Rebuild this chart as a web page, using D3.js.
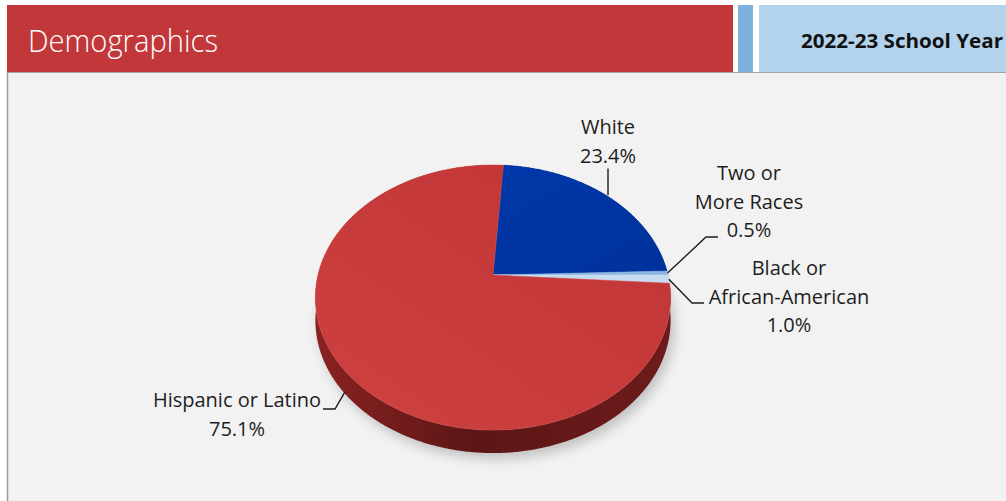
<!DOCTYPE html>
<html>
<head>
<meta charset="utf-8">
<script src="https://cdn.jsdelivr.net/npm/d3@7"></script>
<style>
  body { margin: 0; background: #fff; }
  svg { display: block; }
  .lbl { font-family: "Open Sans", "Noto Sans", sans-serif; font-size: 20px; fill: #1e1e1e; }
  .leader { fill: none; stroke: #1e1e1e; stroke-width: 1.4; }
</style>
</head>
<body>
<svg id="chart" width="1006" height="501"></svg>
<script>
// data
var categories = ["White", "Two or More Races", "Black or African-American", "Hispanic or Latino"];
var values = [23.4, 0.5, 1.0, 75.1];
var labelLines = [["White", "23.4%"], ["Two or", "More Races", "0.5%"], ["Black or", "African-American", "1.0%"], ["Hispanic or Latino", "75.1%"]];
var topColors = ["#0035a3", "#8fb6e3", "#c8dcf1", "#c53739"];
var sideColors = ["#001c5a", "#5e7fa8", "#8aa3bf", "#6a1818"];

// layout of the labels (text anchor + elbow of leader line)
var labelLayout = [
    { x: 608, y: 134, elbow: null, end: null, depth: 0 },
    { x: 749, y: 180, elbow: [706, 237], end: [718, 237], depth: 0 },
    { x: 789, y: 275, elbow: [692, 303], end: [704, 303], depth: 0 },
    { x: 237, y: 407, elbow: [335, 409], end: [323, 409], depth: 22 }
];

var svg = d3.select("#chart");
var defs = svg.append("defs");

// header
svg.append("rect").attr("x", 7).attr("y", 72).attr("width", 999).attr("height", 429).attr("fill", "#f2f2f2");
svg.append("rect").attr("x", 7).attr("y", 5).attr("width", 726).attr("height", 67).attr("fill", "#c2373a");
svg.append("rect").attr("x", 738).attr("y", 5).attr("width", 15).attr("height", 67).attr("fill", "#7fb1df");
svg.append("rect").attr("x", 759).attr("y", 5).attr("width", 247).attr("height", 67).attr("fill", "#b3d3ec");
svg.append("line").attr("x1", 7).attr("x2", 1006).attr("y1", 72.5).attr("y2", 72.5).attr("stroke", "#a3a3a3");
svg.append("line").attr("x1", 7.5).attr("x2", 7.5).attr("y1", 72).attr("y2", 501).attr("stroke", "#9a9a9a").attr("stroke-width", 1.5);

svg.append("text")
    .attr("x", 28).attr("y", 52)
    .attr("textLength", 190).attr("lengthAdjust", "spacingAndGlyphs")
    .style("font-family", "'Open Sans', 'Noto Sans', sans-serif")
    .style("font-weight", 300).style("font-size", "31px").style("fill", "#fff")
    .text("Demographics");
svg.append("text")
    .attr("x", 801).attr("y", 48)
    .attr("textLength", 202).attr("lengthAdjust", "spacingAndGlyphs")
    .style("font-family", "'Open Sans', 'Noto Sans', sans-serif")
    .style("font-weight", 700).style("font-size", "19px").style("fill", "#111")
    .text("2022-23 School Year");

// perspective disc projection
var cx = 493, cy = 275, ax = 175, ay = 128.7, k = 0.17, depth = 23;
var startOffset = 4 * Math.PI / 180;

function proj(theta, r) {
    var u = r * Math.sin(theta), v = r * Math.cos(theta);
    var w = 1 + k * v;
    return [cx + ax * u / w, cy - ay * v / w];
}

function rimPoints(a0, a1) {
    var n = Math.max(2, Math.ceil((a1 - a0) / (Math.PI / 360)));
    return d3.range(n + 1).map(function(i) { return proj(a0 + (a1 - a0) * i / n, 1); });
}

var arcs = d3.pie().sort(null).value(function(d) { return d; })
    .startAngle(startOffset).endAngle(startOffset + 2 * Math.PI)(values);

// shadow
var blur = defs.append("filter").attr("id", "shadow").attr("x", "-20%").attr("y", "-20%").attr("width", "140%").attr("height", "140%");
blur.append("feGaussianBlur").attr("stdDeviation", 6);
var shadowPts = rimPoints(0, 2 * Math.PI).map(function(p) { return [p[0] + 4, p[1] + depth + 6]; });
svg.append("path")
    .attr("d", d3.line()(shadowPts) + "Z")
    .attr("fill", "#9a9a9a").attr("opacity", 0.55)
    .attr("filter", "url(#shadow)");

// gradients
var sideGrad = defs.append("linearGradient").attr("id", "sideRed").attr("x1", 0).attr("x2", 1).attr("y1", 0).attr("y2", 0);
sideGrad.append("stop").attr("offset", 0).attr("stop-color", "#8a2222");
sideGrad.append("stop").attr("offset", 0.45).attr("stop-color", "#5c1616");
sideGrad.append("stop").attr("offset", 1).attr("stop-color", "#6e1b1b");

var topGrad = defs.append("linearGradient").attr("id", "topRed").attr("x1", 0).attr("y1", 1).attr("x2", 0.8).attr("y2", 0.1);
topGrad.append("stop").attr("offset", 0).attr("stop-color", "#e65c5b");
topGrad.append("stop").attr("offset", 0.18).attr("stop-color", "#cc3f3f");
topGrad.append("stop").attr("offset", 1).attr("stop-color", "#c23637");

var blueGrad = defs.append("linearGradient").attr("id", "topBlue").attr("x1", 0).attr("y1", 0).attr("x2", 1).attr("y2", 1);
blueGrad.append("stop").attr("offset", 0).attr("stop-color", "#0037a8");
blueGrad.append("stop").attr("offset", 1).attr("stop-color", "#00329c");

var topFill = ["url(#topBlue)", topColors[1], topColors[2], "url(#topRed)"];
var sideFill = [sideColors[0], sideColors[1], sideColors[2], "url(#sideRed)"];

// sides
var sides = svg.append("g");
arcs.forEach(function(a, i) {
    var pts = rimPoints(a.startAngle, a.endAngle);
    var low = pts.map(function(p) { return [p[0], p[1] + depth]; }).reverse();
    sides.append("path")
        .attr("d", d3.line()(pts.concat(low)) + "Z")
        .attr("fill", sideFill[i]);
});

// tops
var tops = svg.append("g");
arcs.forEach(function(a, i) {
    var pts = [proj(0, 0)].concat(rimPoints(a.startAngle, a.endAngle));
    tops.append("path")
        .attr("d", d3.line()(pts) + "Z")
        .attr("fill", topFill[i])
        .attr("stroke", i === 3 ? "#d24a4a" : topColors[i])
        .attr("stroke-width", 0.5);
});

// labels
var labels = svg.append("g");
arcs.forEach(function(a, i) {
    var L = labelLayout[i];
    var mid = (a.startAngle + a.endAngle) / 2;
    var p = proj(mid, 1);
    p = [p[0], p[1] + L.depth];
    var t = labels.append("text").attr("class", "lbl").attr("text-anchor", "middle");
    labelLines[i].forEach(function(s, j) {
        t.append("tspan").attr("x", L.x).attr("y", L.y + j * 28.5).text(s);
    });
    if (L.elbow) {
        labels.append("path").attr("class", "leader")
            .attr("d", d3.line()([p, L.elbow, L.end]));
    } else {
        var n = labelLines[i].length;
        labels.append("path").attr("class", "leader")
            .attr("d", d3.line()([[L.x, L.y + (n - 1) * 28.5 + 6], [L.x, p[1]]]));
    }
});
</script>
</body>
</html>
